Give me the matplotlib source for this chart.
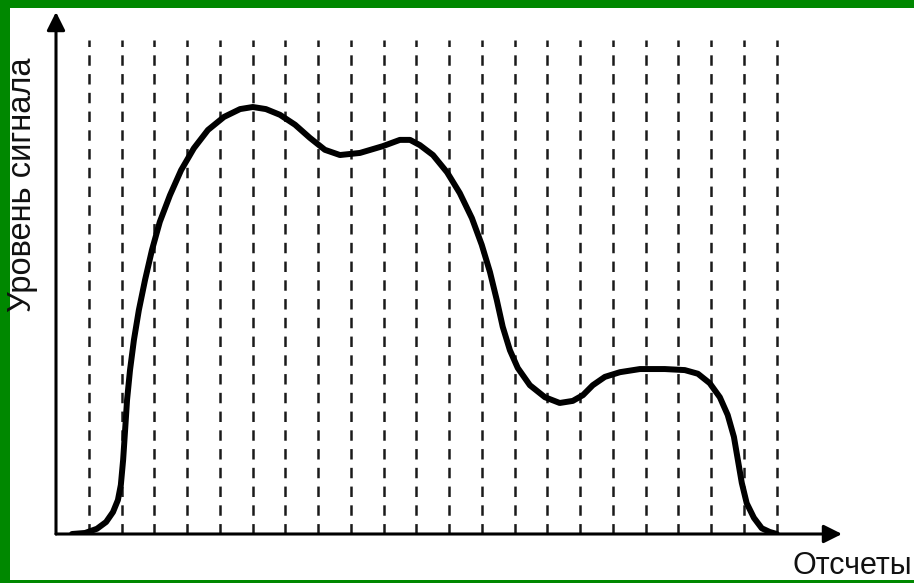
import matplotlib
matplotlib.use("Agg")
from matplotlib import pyplot as plt
from matplotlib.patches import Rectangle

plt.rcParams['font.family'] = ['Liberation Sans', 'DejaVu Sans']
plt.rcParams['lines.scale_dashes'] = False

# sample grid (vertical dashed lines)
samples = [1, 2, 3, 4, 5, 6, 7, 8, 9, 10, 11, 12, 13, 14, 15, 16, 17, 18, 19, 20, 21, 22]
grid_top = 94.6

# signal curve (x in samples, y in % of axis height)
sig_x = [0.49, 0.89, 1.25, 1.53, 1.74, 1.89, 1.98, 2.05, 2.11, 2.17, 2.26, 2.38, 2.53,
         2.72, 2.93, 3.17, 3.48, 3.82, 4.21, 4.64, 5.13, 5.62, 6.01, 6.41, 6.84, 7.30,
         7.75, 8.21, 8.67, 9.28, 9.98, 10.50, 10.81, 11.11, 11.51, 11.94, 12.33, 12.70,
         13.00, 13.25, 13.46, 13.64, 13.86, 14.10, 14.47, 14.93, 15.38, 15.78, 16.09,
         16.39, 16.76, 17.22, 17.83, 18.59, 19.20, 19.60, 19.96, 20.27, 20.51, 20.70,
         20.82, 20.94, 21.09, 21.31, 21.55, 21.79, 22.01]
sig_y = [0.0, 0.2, 1.0, 2.3, 4.2, 6.5, 9.4, 14.2, 19.9, 25.7, 31.4, 37.2, 42.9,
         48.7, 54.4, 59.8, 64.9, 69.7, 73.9, 77.4, 79.9, 81.4, 81.8, 81.4, 80.3, 78.4,
         75.9, 73.6, 72.6, 73.0, 74.3, 75.5, 75.5, 74.5, 72.6, 69.3, 65.3, 60.5,
         55.4, 50.2, 44.8, 39.7, 35.2, 31.8, 28.5, 26.2, 25.1, 25.5, 26.6,
         28.5, 30.1, 31.0, 31.6, 31.6, 31.4, 30.7, 28.9, 26.2, 22.8, 18.6,
         14.2, 9.8, 5.9, 3.1, 1.1, 0.4, 0.0]

W, H = 914, 583
fig = plt.figure(figsize=(W / 100, H / 100), dpi=100, facecolor="#008800")
# white inner panel inside the green frame
fig.patches.append(Rectangle((10 / W, 3 / H), 1, (575 - 3) / H, transform=fig.transFigure,
                             facecolor="white", edgecolor="none", zorder=-5))

ax = fig.add_axes([56 / W, (H - 534) / H, (842 - 56) / W, (534 - 12) / H])
ax.set_zorder(2)
ax.set_xlim(0, 24)
ax.set_ylim(0, 100)
ax.axis("off")

ax.vlines(samples, 0, grid_top, colors="#1a1a1a", linewidth=1.8, linestyles=(0, (7.5, 6.0)))
ax.plot(sig_x, sig_y, color="black", lw=4.3, solid_capstyle="round",
        solid_joinstyle="round", zorder=3)

arrow = dict(arrowstyle="-|>,head_length=1.1,head_width=0.55", lw=2.2, color="black",
             mutation_scale=10, shrinkA=0, shrinkB=0)
ax.annotate("", xy=(1, 0), xycoords="axes fraction", xytext=(0, 0), textcoords="axes fraction",
            arrowprops=arrow)
ax.annotate("", xy=(0, 1), xycoords="axes fraction", xytext=(0, 0), textcoords="axes fraction",
            arrowprops=arrow)

fig.text(23 / W, 1 - 185 / H, "Уровень сигнала", rotation=90, ha="center", va="center",
         fontsize=23.5, color="#111111")
fig.text(792 / W, 1 - 581 / H, "Отсчеты", ha="left", va="bottom", fontsize=22,
         color="#111111")

plt.savefig("out.png", dpi=100, facecolor=fig.get_facecolor())
